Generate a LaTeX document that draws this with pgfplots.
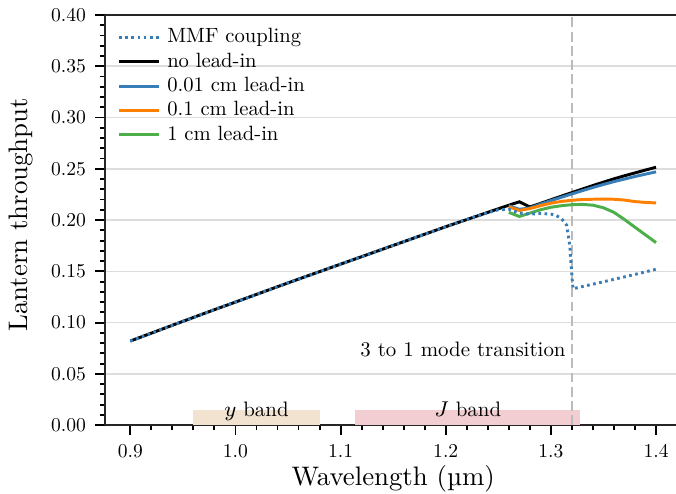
\documentclass[border=0pt]{standalone}
\usepackage{fontspec}
\setmainfont{lmroman10-regular.otf}[ItalicFont=lmroman10-italic.otf, BoldFont=lmroman10-bold.otf]
\usepackage{pgfplots}
\pgfplotsset{compat=1.18}
\definecolor{cblue}{HTML}{377EB8}
\definecolor{corange}{HTML}{FF7F00}
\definecolor{cgreen}{HTML}{4DAF4A}
\definecolor{yband}{HTML}{F1E3D0}
\definecolor{jband}{HTML}{F2CDD1}
\definecolor{gridgray}{HTML}{DDDDDD}
\definecolor{vgray}{HTML}{BBBBBB}

\pgfplotstableread{
x y
0.90 0.0820
0.92 0.0897
0.94 0.0974
0.96 0.1050
0.98 0.1126
1.00 0.1200
1.02 0.1275
1.04 0.1350
1.06 0.1424
1.08 0.1497
1.10 0.1570
1.12 0.1643
1.14 0.1716
1.16 0.1789
1.18 0.1862
1.20 0.1935
1.22 0.2005
1.24 0.2075
1.26 0.2145
1.27 0.2178
1.28 0.2128
1.29 0.2162
1.30 0.2198
1.31 0.2233
1.32 0.2268
1.33 0.2303
1.34 0.2337
1.35 0.2370
1.36 0.2402
1.37 0.2432
1.38 0.2460
1.39 0.2488
1.40 0.2515
}\nolead

\pgfplotstableread{
x y
0.90 0.0820
0.92 0.0897
0.94 0.0974
0.96 0.1050
0.98 0.1126
1.00 0.1200
1.02 0.1275
1.04 0.1350
1.06 0.1424
1.08 0.1497
1.10 0.1570
1.12 0.1643
1.14 0.1716
1.16 0.1789
1.18 0.1862
1.20 0.1935
1.22 0.2005
1.24 0.2072
1.25 0.2100
1.26 0.2105
1.27 0.2068
1.28 0.2058
1.29 0.2065
1.30 0.2058
1.305 0.2045
1.31 0.2015
1.315 0.1950
1.318 0.1750
1.3195 0.1520
1.321 0.1330
1.33 0.1352
1.34 0.1375
1.35 0.1398
1.36 0.1422
1.37 0.1446
1.38 0.1470
1.39 0.1495
1.40 0.1520
}\mmf

\pgfplotstableread{
x y
1.26 0.2140
1.27 0.2105
1.28 0.2118
1.29 0.2155
1.30 0.2190
1.31 0.2222
1.32 0.2255
1.33 0.2287
1.34 0.2318
1.35 0.2347
1.36 0.2375
1.37 0.2400
1.38 0.2425
1.39 0.2448
1.40 0.2470
}\leadA

\pgfplotstableread{
x y
1.26 0.2130
1.27 0.2093
1.28 0.2112
1.29 0.2140
1.30 0.2165
1.31 0.2182
1.32 0.2193
1.33 0.2200
1.34 0.2203
1.35 0.2205
1.36 0.2203
1.37 0.2195
1.38 0.2180
1.39 0.2172
1.40 0.2167
}\leadB

\pgfplotstableread{
x y
1.26 0.2075
1.27 0.2035
1.28 0.2068
1.29 0.2100
1.30 0.2125
1.31 0.2140
1.32 0.2150
1.33 0.2153
1.34 0.2145
1.35 0.2120
1.36 0.2075
1.37 0.2005
1.38 0.1930
1.39 0.1855
1.40 0.1780
}\leadC

\begin{document}
\begin{tikzpicture}
\begin{axis}[
  scale only axis,
  width=213pt, height=153pt,
  xmin=0.876, xmax=1.419,
  ymin=0, ymax=0.40,
  axis x line=box, axis y line=left,
  axis line style={-, line width=0.8pt, black!85},
  xtick pos=bottom, ytick pos=left,
  xtick={0.9,1.0,1.1,1.2,1.3,1.4},
  ytick={0,0.05,0.10,0.15,0.20,0.25,0.30,0.35,0.40},
  minor x tick num=4, minor y tick num=4,
  tick align=outside,
  major tick length=3.6pt, minor tick length=2pt,
  every tick/.style={black, line width=0.7pt},
  /pgf/number format/assume math mode=true,
  xticklabel style={/pgf/number format/fixed, /pgf/number format/fixed zerofill, /pgf/number format/precision=1},
  yticklabel style={/pgf/number format/fixed, /pgf/number format/fixed zerofill, /pgf/number format/precision=2},
  scaled ticks=false,
  tick label style={font=\fontsize{7.3}{9}\selectfont},
  ymajorgrids,
  grid style={gridgray, line width=0.6pt},
  label style={font=\fontsize{10}{12}\selectfont},
  xlabel={Wavelength (µm)},
  ylabel={Lantern throughput},
  xlabel style={at={(axis cs:1.15,0)}, anchor=base, yshift=-22.4pt, inner sep=0pt},
  ylabel style={at={(axis description cs:-0.126,0.513)}, anchor=south, inner sep=0pt},
  legend style={at={(axis description cs:0,1)}, anchor=north west, xshift=4.5pt, yshift=-3.6pt,
    draw=none, fill=none, inner sep=0pt, row sep=0pt,
    font=\fontsize{7.7}{9}\selectfont,
    nodes={inner sep=1pt, text height=5.5pt, text depth=1.6pt}},
  legend cell align=left,
  legend image code/.code={\draw[#1] (0pt,0pt) -- (15pt,0pt); \path (16.4pt,0pt);},
]
\coordinate (SW) at (rel axis cs:0,0);
\coordinate (NE) at (rel axis cs:1,1);

\addlegendimage{cblue, line width=1.1pt, dash pattern=on 1pt off 1.3pt}
\addlegendentry{MMF coupling}
\addlegendimage{black, line width=1.1pt}
\addlegendentry{no lead-in}
\addlegendimage{cblue, line width=1.1pt}
\addlegendentry{0.01 cm lead-in}
\addlegendimage{corange, line width=1.1pt}
\addlegendentry{0.1 cm lead-in}
\addlegendimage{cgreen, line width=1.1pt}
\addlegendentry{1 cm lead-in}

% bands
\addplot[fill=yband, draw=none, forget plot] coordinates {(0.96,0) (0.96,0.015) (1.08,0.015) (1.08,0)} -- cycle;
\addplot[fill=jband, draw=none, forget plot] coordinates {(1.114,0) (1.114,0.015) (1.328,0.015) (1.328,0)} -- cycle;

% transition line
\addplot[vgray, line width=1pt, dash pattern=on 3.7pt off 1.6pt, forget plot] coordinates {(1.32,0) (1.32,0.40)};

\addplot[black, line width=1.1pt, forget plot] table {\nolead};
\addplot[cblue, line width=1.1pt, forget plot] table {\leadA};
\addplot[corange, line width=1.1pt, forget plot] table {\leadB};
\addplot[cgreen, line width=1.1pt, forget plot] table {\leadC};
\addplot[cblue, line width=1.1pt, dash pattern=on 1pt off 1.3pt, forget plot] table {\mmf};

\node[anchor=base, inner sep=0pt, font=\fontsize{7.8}{9}\selectfont] at (axis cs:1.02,0.0088) {$y$ band};
\node[anchor=base, inner sep=0pt, font=\fontsize{7.8}{9}\selectfont] at (axis cs:1.221,0.0088) {$J$ band};
\node[anchor=base east, inner sep=0pt, font=\fontsize{7.8}{9}\selectfont] at (axis cs:1.3145,0.067) {3 to 1 mode transition};
\end{axis}
\pgfresetboundingbox
\path[use as bounding box] ([xshift=-39.2pt,yshift=-25.4pt]SW) rectangle ([yshift=5.6pt]NE);
\end{tikzpicture}
\end{document}
